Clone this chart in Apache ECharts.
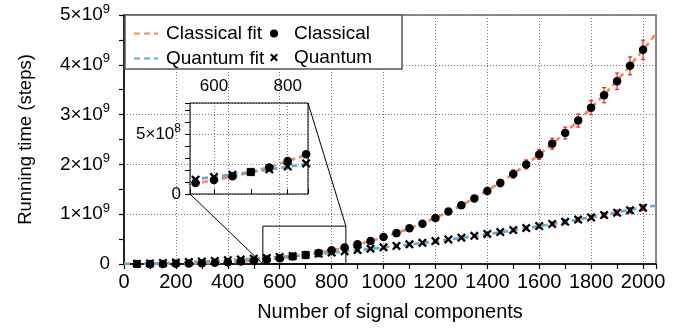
<!DOCTYPE html>
<html>
<head>
<meta charset="utf-8">
<script src="https://cdn.jsdelivr.net/npm/echarts@6/dist/echarts.min.js"></script>
<style>
  html, body { margin: 0; padding: 0; background: #fff; }
  #chart { width: 682px; height: 331px; }
</style>
</head>
<body>
<div id="chart"></div>
<script>
// running time in units of 1e9 steps
const sizes = [50, 100, 150, 200, 250, 300, 350, 400, 450, 500, 550, 600, 650, 700, 750, 800, 850, 900, 950, 1000,
  1050, 1100, 1150, 1200, 1250, 1300, 1350, 1400, 1450, 1500, 1550, 1600, 1650, 1700, 1750, 1800, 1850, 1900, 1950, 2000];
const classical = [0.0001, 0.0005, 0.0018, 0.0043, 0.0084, 0.0145, 0.023, 0.034, 0.049, 0.067, 0.091, 0.117, 0.149, 0.183, 0.222, 0.275, 0.332, 0.396, 0.46, 0.54,
  0.62, 0.718, 0.81, 0.925, 1.055, 1.18, 1.315, 1.465, 1.625, 1.805, 2.0, 2.2, 2.415, 2.63, 2.88, 3.14, 3.39, 3.67, 3.98, 4.3];
const classicalErr = [0.0001, 0.0001, 0.0002, 0.0003, 0.0005, 0.0008, 0.0012, 0.0018, 0.0025, 0.003, 0.004, 0.005, 0.007, 0.008, 0.01, 0.012, 0.015, 0.018, 0.021, 0.025,
  0.028, 0.032, 0.036, 0.042, 0.047, 0.053, 0.059, 0.066, 0.073, 0.081, 0.09, 0.099, 0.108, 0.118, 0.13, 0.141, 0.152, 0.165, 0.179, 0.193];
const quantum = [0.005, 0.012, 0.02, 0.029, 0.039, 0.05, 0.062, 0.076, 0.091, 0.107, 0.12, 0.142, 0.16, 0.183, 0.206, 0.23, 0.255, 0.279, 0.307, 0.336,
  0.363, 0.396, 0.426, 0.46, 0.492, 0.528, 0.565, 0.603, 0.641, 0.681, 0.721, 0.762, 0.805, 0.848, 0.892, 0.935, 0.982, 1.03, 1.078, 1.13];
const quantumErr = [0.0003, 0.0006, 0.001, 0.0015, 0.002, 0.0025, 0.003, 0.004, 0.0045, 0.005, 0.006, 0.007, 0.008, 0.009, 0.01, 0.011, 0.013, 0.014, 0.015, 0.017,
  0.018, 0.02, 0.021, 0.023, 0.025, 0.026, 0.028, 0.03, 0.032, 0.034, 0.036, 0.038, 0.04, 0.042, 0.045, 0.047, 0.049, 0.052, 0.054, 0.057];
const fitX = [0, 100, 200, 300, 400, 500, 600, 700, 800, 900, 1000, 1100, 1200, 1300, 1400, 1500, 1600, 1700, 1800, 1900, 2000, 2050];
const classicalFit = [0, 0.0005, 0.0043, 0.0145, 0.034, 0.067, 0.116, 0.184, 0.275, 0.392, 0.538, 0.715, 0.929, 1.18, 1.475, 1.814, 2.2, 2.64, 3.135, 3.687, 4.3, 4.63];
const quantumFit = [0, 0.012, 0.029, 0.05, 0.076, 0.107, 0.143, 0.183, 0.228, 0.278, 0.333, 0.392, 0.456, 0.525, 0.598, 0.677, 0.76, 0.847, 0.94, 1.037, 1.135, 1.17];
const zoomX = [535, 855];
const zoomY = [0, 0.76];

const FONT = '"Liberation Sans", Arial, Helvetica, sans-serif';
const ORANGE = '#ef8a62';
const BLUE = '#67a9cf';
const CROSS = 'path://M0,1.8L1.8,0L5,3.2L8.2,0L10,1.8L6.8,5L10,8.2L8.2,10L5,6.8L1.8,10L0,8.2L3.2,5Z';

const chart = echarts.init(document.getElementById('chart'), null, { renderer: 'canvas' });

const pts = (ys) => sizes.map((x, i) => [x, ys[i]]);
const bars = (ys, es) => sizes.map((x, i) => [x, ys[i] - es[i], ys[i] + es[i]]);
const inZoom = (arr) => arr.filter(d => d[0] >= zoomX[0] && d[0] <= zoomX[1]);

const errorBar = (params, api) => {
  const x = api.value(0);
  const a = api.coord([x, api.value(1)]);
  const b = api.coord([x, api.value(2)]);
  const w = 2;
  const style = { stroke: '#ff1a1a', lineWidth: 1.2 };
  return {
    type: 'group',
    children: [
      { type: 'line', shape: { x1: a[0], y1: a[1], x2: b[0], y2: b[1] }, style },
      { type: 'line', shape: { x1: a[0] - w, y1: a[1], x2: a[0] + w, y2: a[1] }, style },
      { type: 'line', shape: { x1: b[0] - w, y1: b[1], x2: b[0] + w, y2: b[1] }, style }
    ]
  };
};

const supLabel = (size, supSize) => ({
  fontFamily: FONT,
  color: '#000',
  rich: {
    m: { fontSize: size, fontFamily: FONT, color: '#000', lineHeight: size },
    s: { fontSize: supSize, fontFamily: FONT, color: '#000', lineHeight: supSize, padding: [0, 0, Math.round(size * 0.62), 0] }
  }
});

const fitSeries = (name, data, color, xi) => ({
  name, type: 'line', data, xAxisIndex: xi, yAxisIndex: xi,
  smooth: true, symbol: 'none', clip: true, z: 2,
  itemStyle: { color },
  lineStyle: { color, width: 2.7, type: [6, 4] }
});
const dotSeries = (name, data, symbol, size, xi) => ({
  name, type: 'scatter', data, xAxisIndex: xi, yAxisIndex: xi,
  symbol, symbolSize: size, clip: true, z: 4,
  itemStyle: { color: '#000', opacity: 1 }
});
const errSeries = (data, xi) => ({
  type: 'custom', data, xAxisIndex: xi, yAxisIndex: xi,
  renderItem: errorBar, clip: true, z: 3, silent: true
});

const legendText = { fontFamily: FONT, fontSize: 19, color: '#000', lineHeight: 16, padding: [0, 0, 0, 3] };
const gridLine = { show: true, lineStyle: { color: '#777', width: 1, type: [1, 2] } };
const blackTick = (w) => ({ show: true, length: 5, lineStyle: { color: '#000', width: w } });

chart.setOption({
  animation: false,
  backgroundColor: '#fff',
  grid: [
    { left: 124, right: 26, top: 15, bottom: 67, show: true, borderColor: '#666', borderWidth: 1.5, outerBoundsMode: 'none' },
    { left: 190, width: 118, top: 103, height: 91, show: false, outerBoundsMode: 'none' }
  ],
  legend: [
    {
      data: ['Classical fit', 'Quantum fit'], orient: 'vertical', left: 133, top: 24, padding: 0,
      itemWidth: 24, itemHeight: 7, itemGap: 6, textStyle: legendText, selectedMode: false, z: 6,
      itemStyle: { color: 'transparent', opacity: 0, borderWidth: 0 }
    },
    {
      data: ['Classical', 'Quantum'], orient: 'vertical', left: 270, top: 24, padding: 0,
      itemWidth: 24, itemHeight: 8, itemGap: 5, textStyle: legendText, selectedMode: false, z: 6
    }
  ],
  xAxis: [
    {
      type: 'value', gridIndex: 0, min: 0, max: 2050, interval: 200,
      name: 'Number of signal components', nameLocation: 'middle', nameGap: 38,
      nameTextStyle: { fontFamily: FONT, fontSize: 20, color: '#000' },
      axisLine: { show: true, lineStyle: { color: '#000', width: 1.5 } },
      axisTick: blackTick(1.2),
      minorTick: Object.assign(blackTick(1.2), { splitNumber: 2 }),
      axisLabel: { fontFamily: FONT, fontSize: 20, color: '#000', margin: 8, showMaxLabel: false, formatter: v => String(v) },
      splitLine: gridLine
    },
    {
      type: 'value', gridIndex: 1, min: zoomX[0], max: zoomX[1], splitNumber: 2, position: 'top',
      axisLine: { show: false },
      axisTick: blackTick(1),
      minorTick: Object.assign(blackTick(1), { splitNumber: 2 }),
      axisLabel: {
        fontFamily: FONT, fontSize: 17, color: '#000', margin: 8,
        formatter: v => (v === 600 || v === 800) ? String(v) : ''
      },
      splitLine: gridLine
    }
  ],
  yAxis: [
    {
      type: 'value', gridIndex: 0, min: 0, max: 5, interval: 1,
      name: 'Running time (steps)', nameLocation: 'middle', nameGap: 89,
      nameTextStyle: { fontFamily: FONT, fontSize: 18.5, color: '#000' },
      axisLine: { show: true, lineStyle: { color: '#000', width: 1.5 } },
      axisTick: blackTick(1.2),
      minorTick: Object.assign(blackTick(1.2), { splitNumber: 2 }),
      axisLabel: Object.assign(supLabel(19, 13), {
        margin: 14,
        formatter: v => v === 0 ? '{m|0}' : `{m|${v}×10}{s|9}`
      }),
      splitLine: gridLine
    },
    {
      type: 'value', gridIndex: 1, min: zoomY[0], max: zoomY[1], interval: 0.5,
      axisLine: { show: false },
      axisTick: blackTick(1),
      minorTick: Object.assign(blackTick(1), { splitNumber: 5 }),
      axisLabel: Object.assign(supLabel(17, 12), {
        margin: 9, showMaxLabel: false,
        formatter: v => v === 0 ? '{m|0}' : (Math.abs(v - 0.5) < 1e-9 ? '{m|5×10}{s|8}' : '')
      }),
      splitLine: gridLine
    }
  ],
  series: [
    fitSeries('Classical fit', fitX.map((x, i) => [x, classicalFit[i]]), ORANGE, 0),
    fitSeries('Quantum fit', fitX.map((x, i) => [x, quantumFit[i]]), BLUE, 0),
    errSeries(bars(classical, classicalErr), 0),
    errSeries(bars(quantum, quantumErr), 0),
    dotSeries('Classical', pts(classical), 'circle', 8.5, 0),
    dotSeries('Quantum', pts(quantum), CROSS, 9, 0),
    fitSeries('Classical fit', fitX.map((x, i) => [x, classicalFit[i]]), ORANGE, 1),
    fitSeries('Quantum fit', fitX.map((x, i) => [x, quantumFit[i]]), BLUE, 1),
    errSeries(inZoom(bars(classical, classicalErr)), 1),
    errSeries(inZoom(bars(quantum, quantumErr)), 1),
    dotSeries('Classical', inZoom(pts(classical)), 'circle', 8.5, 1),
    dotSeries('Quantum', inZoom(pts(quantum)), CROSS, 9, 1)
  ]
});

// zoom box, inset frame, connector lines and legend frame
const main = { xAxisIndex: 0, yAxisIndex: 0 };
const inset = { xAxisIndex: 1, yAxisIndex: 1 };
const b0 = chart.convertToPixel(main, [zoomX[0], zoomY[0]]);
const b1 = chart.convertToPixel(main, [zoomX[1], zoomY[1]]);
const i0 = chart.convertToPixel(inset, [zoomX[0], zoomY[0]]);
const i1 = chart.convertToPixel(inset, [zoomX[1], zoomY[1]]);
const thin = { stroke: '#000', lineWidth: 1, fill: null };

chart.setOption({
  graphic: [
    { type: 'rect', z: 5, shape: { x: 125, y: 15, width: 277, height: 54 }, style: { fill: '#fff', stroke: '#555', lineWidth: 1.5 } },
    { type: 'rect', z: 5, shape: { x: b0[0], y: b1[1], width: b1[0] - b0[0], height: b0[1] - b1[1] }, style: thin },
    { type: 'rect', z: 5, shape: { x: i0[0], y: i1[1], width: i1[0] - i0[0], height: i0[1] - i1[1] }, style: thin },
    { type: 'line', z: 5, shape: { x1: b0[0], y1: b0[1], x2: i0[0], y2: i0[1] }, style: thin },
    { type: 'line', z: 5, shape: { x1: b1[0], y1: b1[1], x2: i1[0], y2: i1[1] }, style: thin }
  ]
});
</script>
</body>
</html>
